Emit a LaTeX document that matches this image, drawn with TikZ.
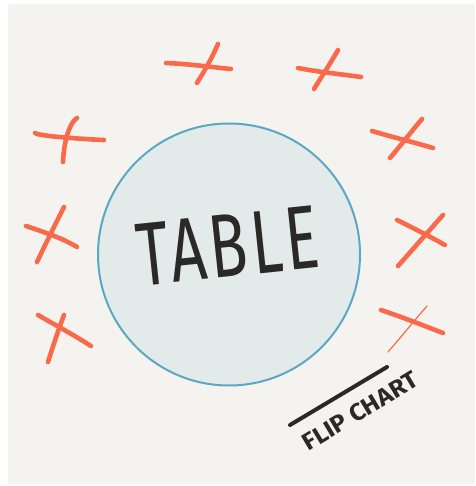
\documentclass[tikz,border=0pt]{standalone}
\usepackage{fontspec}
\setmainfont{Fira Sans}
\usepackage{graphicx}
\definecolor{bg}{HTML}{F4F3F0}
\definecolor{tablefill}{HTML}{E3EBEA}
\definecolor{tableline}{HTML}{5BA8C4}
\definecolor{cross}{HTML}{F96A4A}
\definecolor{ink}{HTML}{2B2926}
\tikzset{
  xstroke/.style={draw=cross, line width=4.6pt, line cap=round},
  thinstroke/.style={draw=cross, line width=1.2pt, line cap=round},
  inkline/.style={draw=ink, line width=4pt, line cap=round},
}
\begin{document}
\begin{tikzpicture}[x=1pt,y=-1pt]
\useasboundingbox (0,0) rectangle (475,486);
\fill[white] (0,0) rectangle (475,486);
\fill[bg] (8,4) rectangle (475,484);
% table
\node[circle, minimum size=262pt, inner sep=0pt, fill=tablefill, draw=tableline, line width=2pt] (table) at (229,254.5) {};
\node[text=ink, rotate=6] (tabletext) at (228,246) {\resizebox{182pt}{62pt}{\addfontfeatures{LetterSpace=6}TABLE}};
% crosses
\draw[xstroke] (166,63) .. controls (190,64) and (210,67) .. (231,69);
\draw[xstroke] (218,44) .. controls (212,58) and (205,70) .. (197,83);
\draw[xstroke] (298,68) .. controls (318,72) and (340,74) .. (361,77);
\draw[xstroke] (338,50) .. controls (330,64) and (322,76) .. (314,89);
\draw[xstroke] (35,133) .. controls (38,136) and (80,139) .. (104,140);
\draw[xstroke] (77,118) .. controls (70,122) and (64,140) .. (63,162);
\draw[xstroke] (26,226) .. controls (44,232) and (62,238) .. (77,247);
\draw[xstroke] (64,207) .. controls (55,225) and (46,243) .. (37,262);
\draw[xstroke] (38,315) .. controls (55,325) and (74,335) .. (91,346);
\draw[xstroke] (64,315) .. controls (58,331) and (53,346) .. (48,362);
\draw[xstroke] (372,131) .. controls (392,137) and (413,142) .. (433,148);
\draw[xstroke] (422,119) .. controls (411,132) and (401,145) .. (390,158);
\draw[xstroke] (397,220) .. controls (413,228) and (429,236) .. (445,245);
\draw[xstroke] (443,215) .. controls (428,232) and (413,249) .. (398,266);
\draw[xstroke] (381,310) .. controls (402,317) and (422,325) .. (443,333);
\draw[thinstroke] (427,306) .. controls (414,321) and (401,337) .. (388,352);
% flip chart
\coordinate (fa) at (290,425);
\coordinate (fb) at (387,367);
\draw[inkline] (fa) -- (fb);
\node[text=ink, rotate=31] (flip) at (360,411) {\resizebox{130pt}{17pt}{\bfseries FLIP CHART}};
\end{tikzpicture}
\end{document}
